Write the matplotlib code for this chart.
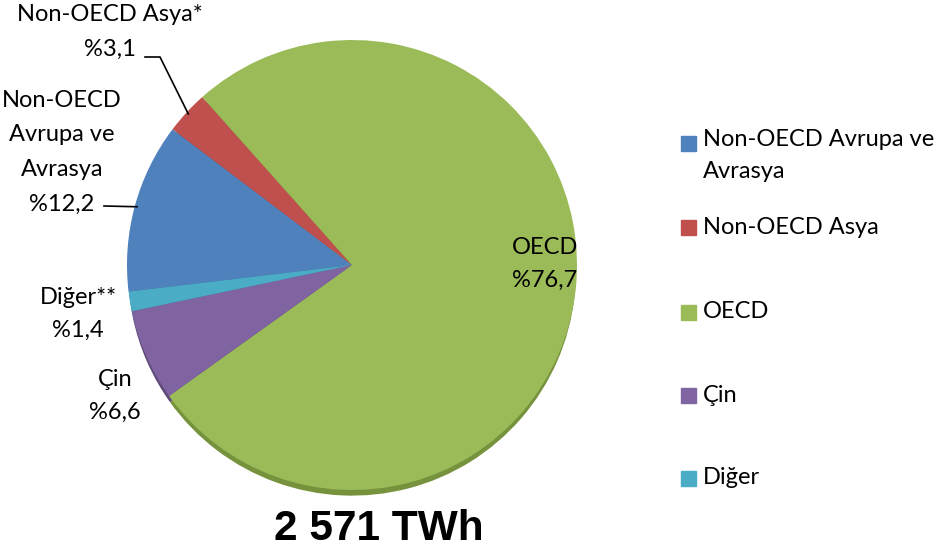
import matplotlib.pyplot as plt
from matplotlib.patches import Rectangle
import numpy as np

plt.rcParams['font.family'] = ['Lato', 'DejaVu Sans']

# order as in the legend (Excel draws clockwise from this order)
labels = ["Non-OECD Avrupa ve\nAvrasya", "Non-OECD Asya", "OECD", "Çin", "Diğer"]
values = [12.2, 3.1, 76.7, 6.6, 1.4]
slice_text = ["Non-OECD\nAvrupa ve\nAvrasya\n%12,2", "Non-OECD Asya*\n%3,1",
              "OECD\n%76,7", "Çin\n%6,6", "Diğer**\n%1,4"]
colors = ["#4F81BD", "#C0504D", "#9BBB59", "#8064A2", "#4BACC6"]
rim_colors = ["#3B6496", "#963C3A", "#76923C", "#5F4B7A", "#31859C"]
total_label = "2 571 TWh"

W, H = 934, 556
fig = plt.figure(figsize=(W / 100, H / 100), dpi=100)

# pie centre (352, 265) px, radius 225 px
cx, cy, r = 352, 265, 225
half = 260
ax = fig.add_axes([(cx - half) / W, (H - cy - half) / H, 2 * half / W, 2 * half / H])
lim = half / r

start = 186.8
# darker copy shifted down gives the thin 3D rim
ax.pie(values, colors=rim_colors, startangle=start, counterclock=False,
       center=(0, -0.03), radius=0.995, frame=True)
wedges, _ = ax.pie(values, colors=colors, startangle=start, counterclock=False,
                   radius=1, frame=True)
ax.set_xlim(-lim, lim)
ax.set_ylim(-lim, lim)
ax.set_aspect('equal')
ax.axis('off')


def px(x, y):
    return (x - cx) / r, (cy - y) / r


fs = 17
# label placements (pixels) and line spacing
pos = {
    0: (62, 152, 1.8),
    1: (110, 32, 1.8),
    2: (545, 264, 1.65),
    3: (115, 396, 1.65),
    4: (78, 314, 1.65),
}
for i, t in enumerate(slice_text):
    x, y, ls = pos[i]
    x, y = px(x, y)
    ax.text(x, y, t, ha='center', va='center', fontsize=fs, linespacing=ls,
            color='black')

# leader lines
for i, path in [(1, [(145, 57), (160, 57)]), (0, [(104, 206)])]:
    w = wedges[i]
    mid = np.deg2rad((w.theta1 + w.theta2) / 2)
    ex, ey = 0.99 * np.cos(mid), 0.99 * np.sin(mid)
    pts = [px(*p) for p in path] + [(ex, ey)]
    ax.plot([p[0] for p in pts], [p[1] for p in pts], color='black', lw=1.2)

# legend
leg_y = [143, 227, 312, 395, 478]
for lab, col, y in zip(labels, colors, leg_y):
    fig.patches.append(Rectangle((681 / W, (H - y - 8) / H), 15 / W, 15 / H,
                                 transform=fig.transFigure, color=col))
    if '\n' in lab:
        fig.text(703 / W, (H - y + 14) / H, lab, ha='left', va='top',
                 fontsize=fs, linespacing=1.65)
    else:
        fig.text(703 / W, (H - y) / H, lab, ha='left', va='center', fontsize=fs)

fig.text(379 / W, (H - 529) / H, total_label, ha='center', va='center',
         fontsize=30.5, fontweight='bold', family='Liberation Sans')

fig.savefig("out.png", dpi=100)
